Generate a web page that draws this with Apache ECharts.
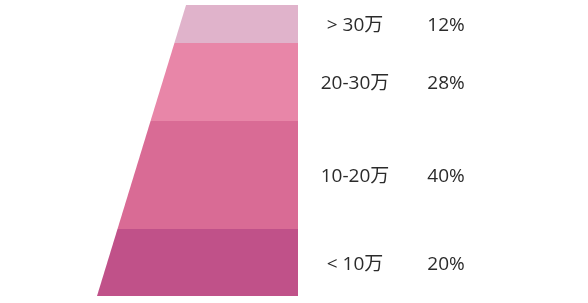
<!DOCTYPE html>
<html>
<head>
<meta charset="utf-8">
<script src="https://cdn.jsdelivr.net/npm/echarts@6/dist/echarts.min.js"></script>
<style>html,body{margin:0;padding:0;background:#fff;}#c{width:588px;height:303px;}</style>
</head>
<body>
<div id="c"></div>
<script>
// Data (top to bottom)
var categories = ['> 30万', '20-30万', '10-20万', '< 10万'];
var percentLabels = ['12%', '28%', '40%', '20%'];
// visual band heights (relative units)
var bandHeights = [38, 78, 108, 67];
var bandColors = ['#e0b3cb', '#e886a8', '#d96b95', '#c05189'];

var total = bandHeights.reduce(function (a, b) { return a + b; }, 0);
var bands = [];
var acc = 0;
for (var i = 0; i < bandHeights.length; i++) {
  bands.push([i, acc, acc + bandHeights[i]]);
  acc += bandHeights[i];
}
var topLeftFrac = 0.443; // left edge at top, fraction of width
var FONT = '19px "Open Sans", "Noto Sans CJK SC", sans-serif';

var chart = echarts.init(document.getElementById('c'), null, {renderer: 'canvas'});
chart.setOption({
  animation: false,
  grid: {left: 97, right: 290, top: 5, bottom: 7},
  xAxis: {type: 'value', min: 0, max: 1, show: false},
  yAxis: {type: 'value', min: 0, max: total, inverse: true, show: false},
  series: [{
    type: 'custom',
    data: bands,
    encode: {x: -1, y: [1, 2]},
    renderItem: function (params, api) {
      var idx = api.value(0);
      var y0 = api.value(1), y1 = api.value(2);
      function leftAt(y) { return topLeftFrac * (1 - y / total); }
      var p1 = api.coord([leftAt(y0), y0]);
      var p2 = api.coord([1, y0]);
      var p3 = api.coord([1, y1]);
      var p4 = api.coord([leftAt(y1), y1]);
      var cy = (p1[1] + p4[1]) / 2 + 2;
      return {
        type: 'group',
        children: [
          {type: 'polygon', shape: {points: [p1, p2, p3, p4]}, style: {fill: bandColors[idx]}},
          {type: 'text', x: p2[0] + 57, y: cy, style: {text: categories[idx], fill: '#2b2b2b', font: FONT, align: 'center', verticalAlign: 'middle'}},
          {type: 'text', x: p2[0] + 148, y: cy, style: {text: percentLabels[idx], fill: '#2b2b2b', font: FONT, align: 'center', verticalAlign: 'middle'}}
        ]
      };
    }
  }]
});
</script>
</body>
</html>
